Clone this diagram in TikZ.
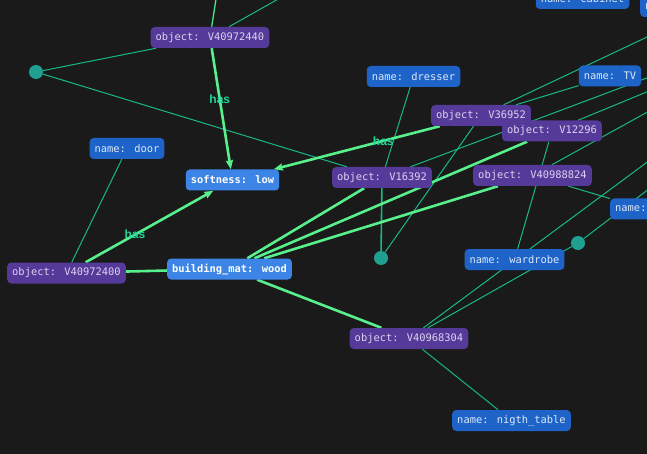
\documentclass[tikz,border=0pt]{standalone}
\usepackage{fontspec}
\usetikzlibrary{arrows.meta}
\newfontfamily\boxmono{DejaVu Sans Mono}
\newfontfamily\lblsans{Liberation Sans}

\definecolor{canvas}{HTML}{1A1A1A}
\definecolor{objfill}{HTML}{553A99}
\definecolor{objtext}{HTML}{DCD3F0}
\definecolor{namefill}{HTML}{1E64C8}
\definecolor{nametext}{HTML}{DCE8FA}
\definecolor{attrfill}{HTML}{3C84E6}
\definecolor{strongedge}{HTML}{58F08C}
\definecolor{weakedge}{HTML}{17B986}
\definecolor{hasgreen}{HTML}{22D69A}
\definecolor{blankfill}{HTML}{20A091}

\pgfdeclarelayer{back}
\pgfdeclarelayer{edges}
\pgfsetlayers{back,edges,main}

\tikzset{
  box/.style={rounded corners=4pt, minimum height=21pt, inner xsep=5pt, inner ysep=0pt,
    font=\boxmono\fontsize{10.4}{12}\selectfont},
  objbox/.style={box, fill=objfill, text=objtext},
  namebox/.style={box, fill=namefill, text=nametext},
  attrbox/.style={box, fill=attrfill, text=white, font=\boxmono\bfseries\fontsize{10.4}{12}\selectfont},
  blank/.style={circle, fill=blankfill, minimum size=14pt, inner sep=0pt},
  strong/.style={draw=strongedge, line width=2.6pt},
  strongarrow/.style={strong, -{Stealth[length=9pt,width=7pt,inset=1pt]}},
  weak/.style={draw=weakedge, line width=1pt},
  haslbl/.style={text=hasgreen, font=\lblsans\bfseries\fontsize{12}{14}\selectfont, inner sep=0pt},
}

\begin{document}
\begin{tikzpicture}[x=1pt,y=-1pt]
\path[use as bounding box] (0,0) rectangle (647,454);
\clip (0,0) rectangle (647,454);
\begin{pgfonlayer}{back}
  \fill[canvas] (0,0) rectangle (647,454);
\end{pgfonlayer}

% object nodes
\node[objbox] (o440)  at (210,37.5)  {object: V40972440};
\node[objbox] (o952)  at (481,115.5) {object: V36952};
\node[objbox] (o296)  at (552,131)   {object: V12296};
\node[objbox] (o392)  at (382,177.5) {object: V16392};
\node[objbox] (o824)  at (532.5,175.5) {object: V40988824};
\node[objbox] (o400)  at (66.5,273)  {object: V40972400};
\node[objbox] (o304)  at (409,338.5) {object: V40968304};

% name nodes
\node[namebox] (ndoor)  at (127,148.5)  {name: door};
\node[namebox] (ndress) at (413.5,76.5) {name: dresser};
\node[namebox] (ntv)    at (610,76)     {name: TV};
\node[namebox] (nward)  at (514.5,259.5) {name: wardrobe};
\node[namebox] (nnight) at (511.5,420.5) {name: nigth\_table};
\node[namebox] (ncab)   at (582.5,-1.5) {name: cabinet};
\node[namebox, anchor=west, text width=60pt, align=left] (ntop) at (640,6.5) {name:};
\node[namebox, anchor=west, text width=60pt, align=left] (nright) at (610,209) {name:};

% attribute nodes
\node[attrbox] (soft) at (232.5,180) {softness: low};
\node[attrbox] (wood) at (229.5,269) {building\_mat: wood};

% blank nodes
\node[blank] (b1) at (36,72) {};
\node[blank] (b2) at (381,258) {};
\node[blank] (b3) at (578,243) {};

% targets beyond the frame
\coordinate (outA) at (219,-20);
\coordinate (outB) at (312,-20);
\coordinate (outC) at (700,12);
\coordinate (outD) at (700,58);
\coordinate (outE) at (700,83);
\coordinate (outF) at (700,70);
\coordinate (outG) at (700,123);
\coordinate (outH) at (700,150);

\begin{pgfonlayer}{edges}
  % weak links
  \draw[weak] (b1) -- (o440);
  \draw[weak] (b1) -- (o392);
  \draw[weak] (ndoor) -- (o400);
  \draw[weak] (ndress) -- (o392);
  \draw[weak, line width=1.6pt] (o392) -- (b2);
  \draw[weak] (b2) -- (o952);
  \draw[weak] (o952) -- (ntv);
  \draw[weak] (o952) -- (outC);
  \draw[weak] (o392) -- (outD);
  \draw[weak] (o824) -- (outE);
  \draw[weak] (o296) -- (outF);
  \draw[weak] (o296) -- (nward);
  \draw[weak] (o824) -- (nright);
  \draw[weak] (o304) -- (outG);
  \draw[weak] (o304) -- (b3);
  \draw[weak] (b3) -- (outH);
  \draw[weak] (o304) -- (nnight);
  \draw[weak] (o440) -- (outB);
  \draw[draw=strongedge!80!weakedge, line width=1.3pt] (o440) -- (outA);

  % strong links
  \draw[strong] (wood) -- (o400);
  \draw[strong] (wood) -- (o392);
  \draw[strong] (wood) -- (o296);
  \draw[strong] (wood) -- (o824);
  \draw[strong] (wood) -- (o304);
  \draw[strongarrow] (o440) -- node[haslbl, pos=0.425] {has} (soft);
  \draw[strongarrow] (o952) -- node[haslbl, pos=0.34] {has} (soft);
  \draw[strongarrow] (o400) -- node[haslbl, pos=0.386] {has} (soft);
\end{pgfonlayer}
\end{tikzpicture}
\end{document}
